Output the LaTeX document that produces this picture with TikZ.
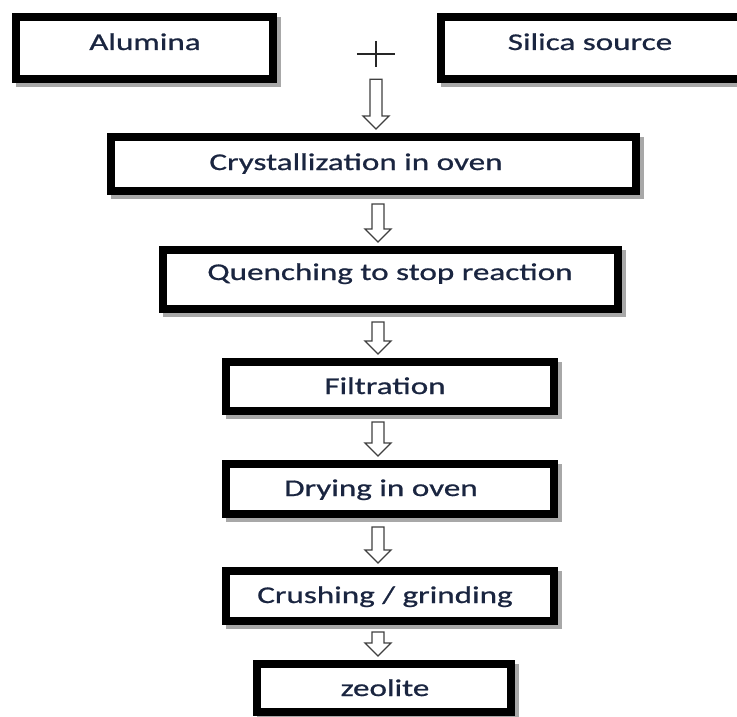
\documentclass[tikz,border=0pt]{standalone}
\usepackage{fontspec}
\setmainfont{Carlito}[FakeStretch=1.38,FakeBold=0.8]
\usetikzlibrary{calc}
\definecolor{txtcol}{HTML}{1A2540}
\definecolor{shadowcol}{HTML}{A8A8A8}
\definecolor{innercol}{HTML}{8E9AA8}
\definecolor{arrowcol}{HTML}{404040}
\begin{document}
\begin{tikzpicture}[x=1pt,y=-1pt,
  flowbox/.style={draw=black, line width=8pt, fill=white, inner sep=0pt,
    preaction={draw=shadowcol, line width=8pt, transform canvas={xshift=4pt,yshift=-4pt}},
    append after command={
      \pgfextra{\draw[innercol, line width=1.5pt]
        ([shift={(4.75pt,-4.75pt)}]\tikzlastnode.north west) rectangle
        ([shift={(-4.75pt,4.75pt)}]\tikzlastnode.south east);}}},
  txt/.style={anchor=base, inner sep=0pt, text=txtcol, font=\fontsize{24}{28}\selectfont},
  fat/.style={draw=arrowcol, fill=white, line width=1.3pt, line join=miter,
    to path={let \p1=(\tikztostart), \p2=(\tikztotarget) in
      (\x1-6pt,\y1) -- (\x1+6pt,\y1) -- (\x1+6pt,\y2+13pt) -- (\x1+13pt,\y2+13pt)
      -- (\x1,\y2) -- (\x1-13pt,\y2+13pt) -- (\x1-6pt,\y2+13pt) -- cycle}}
  ]
\useasboundingbox (0,0) rectangle (737,717);
\clip (0,0) rectangle (737,717);
\fill[white] (0,0) rectangle (737,717);

% boxes
\node[flowbox, minimum width=257pt, minimum height=62pt] (alu) at (144.5,48) {};
\node[flowbox, minimum width=302pt, minimum height=62pt] (sil) at (592,48) {};
\node[flowbox, minimum width=525pt, minimum height=54pt] (cry) at (373.5,164) {};
\node[flowbox, minimum width=455pt, minimum height=59pt] (que) at (390.5,279.5) {};
\node[flowbox, minimum width=328pt, minimum height=49pt] (fil) at (390,386.5) {};
\node[flowbox, minimum width=328pt, minimum height=50pt] (dry) at (390,489) {};
\node[flowbox, minimum width=328pt, minimum height=50pt] (cru) at (390,596) {};
\node[flowbox, minimum width=254pt, minimum height=48pt] (zeo) at (384,688) {};

% texts
\node[txt] (alut) at (145,50) {Alumina};
\node[txt] (silt) at (590,50) {Silica source};
\node[txt] (cryt) at (356,170) {Crystallization in oven};
\node[txt] (quet) at (390,280) {Quenching to stop reaction};
\node[txt] (filt) at (385,394) {Filtration};
\node[txt] (dryt) at (381,496) {Drying in oven};
\node[txt] (crut) at (385,603) {Crushing / grinding};
\node[txt] (zeot) at (385,696) {zeolite};

% plus sign
\node[minimum width=38pt, minimum height=26pt, inner sep=0pt] (plus) at (376,54) {};
\draw[line width=1.3pt, black!85] (plus.west) -- (plus.east) (plus.north) -- (plus.south);

% axis for arrows
\coordinate (axis) at (378,0);

% hollow arrows
\draw[fat] ([yshift=-12pt]plus.south) to ([yshift=4pt]cry.north -| plus);
\draw[fat] ([yshift=-9pt]cry.south -| axis) to ([yshift=4pt]que.north -| axis);
\draw[fat] ([yshift=-9pt]que.south -| axis) to ([yshift=4pt]fil.north -| axis);
\draw[fat] ([yshift=-7pt]fil.south -| axis) to ([yshift=4pt]dry.north -| axis);
\draw[fat] ([yshift=-9pt]dry.south -| axis) to ([yshift=4pt]cru.north -| axis);
\draw[fat] ([yshift=-7pt]cru.south -| axis) to ([yshift=4pt]zeo.north -| axis);
\end{tikzpicture}
\end{document}
